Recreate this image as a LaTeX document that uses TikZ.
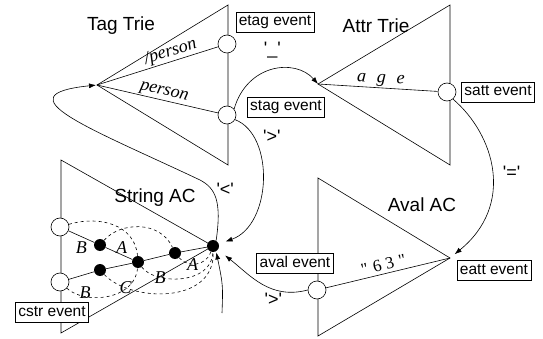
\documentclass[tikz,border=0pt]{standalone}
\usepackage{fontspec}
\newfontfamily\arl{Liberation Sans}
\newfontfamily\tms{Liberation Serif}
\usetikzlibrary{arrows.meta}

\tikzset{
  state/.style={circle,draw,fill=white,minimum size=18pt,inner sep=0pt},
  hit/.style={circle,fill=black,minimum size=12pt,inner sep=0pt},
  evbox/.style={draw,fill=white,font=\arl\fontsize{15.5}{18}\selectfont,
    inner xsep=3pt,inner ysep=2.5pt,text height=11.5pt,text depth=3.5pt},
  title/.style={font=\arl\fontsize{19}{22}\selectfont},
  sym/.style={font=\arl\fontsize{18}{20}\selectfont,inner sep=1pt},
  lbl/.style={font=\tms\itshape\fontsize{18}{20}\selectfont,inner sep=1pt},
  num/.style={font=\tms\fontsize{17}{19}\selectfont,inner sep=1pt},
  move/.style={-{Latex[length=7pt,width=5pt]}},
  fail/.style={dashed}
}

\begin{document}
\begin{tikzpicture}[x=1pt,y=-1pt,line width=0.6pt]
\useasboundingbox (0,0) rectangle (543,339);

% Tag trie
\coordinate (tagroot) at (97,85);
\draw (tagroot) -- (228,5) -- (228,165) -- cycle;
\node[title] (tagname) at (121,26) {Tag Trie};
\node[state] (etagst) at (227,44) {};
\node[state] (stagst) at (227,115) {};
\draw (tagroot) -- (etagst) node[pos=.63,sloped,above,lbl] {/person};
\draw (tagroot) -- (stagst) node[pos=.54,sloped,above,lbl] {person};
\node[evbox] (etagev) at (275,22) {etag event};
\node[evbox] (stagev) at (286,107) {stag event};

% Attr trie
\coordinate (attrroot) at (318,84);
\draw (attrroot) -- (450,5) -- (450,165) -- cycle;
\node[title] (attrname) at (376,26) {Attr Trie};
\node[state] (sattst) at (447,92) {};
\draw (attrroot) -- (sattst) node[pos=.52,sloped,above,lbl] {a\hspace{.6em}g\hspace{.6em}e};
\node[evbox] (sattev) at (498,92) {satt event};

% Aval AC
\coordinate (avalroot) at (450,258);
\draw (avalroot) -- (318,178) -- (318,336) -- cycle;
\node[title] (avalname) at (422,205) {Aval AC};
\node[state] (avalst) at (317,290) {};
\draw (avalst) -- (avalroot) node[pos=.48,sloped,above=2pt,num] {"\hspace{.3em}6\hspace{.25em}3\hspace{.3em}"};
\node[evbox] (avalev) at (295,263) {aval event};
\node[evbox] (eattev) at (494,270) {eatt event};

% String AC
\node[hit] (acroot) at (213,246) {};
\draw (61,160) -- (acroot.center) -- (61,333) -- cycle;
\node[title] (acname) at (155,198) {String AC};
\node[hit] (acA) at (175,253) {};
\node[hit] (acAB) at (138,262) {};
\node[hit] (acABA) at (100,245) {};
\node[hit] (acABC) at (100,270) {};
\node[state] (acABAB) at (60,227) {};
\node[state] (acABCB) at (60,282) {};
\draw (acroot) -- (acA) -- (acAB) -- (acABA)
  node[pos=.4,above,lbl] {A};
\draw (acABA) -- (acABAB) node[pos=.5,below=4pt,lbl] {B};
\draw (acAB) -- (acABC) -- (acABCB);
% failure links
\draw[fail] (acABAB) .. controls (100,215) and (135,225) .. (acAB);
\draw[fail] (acABA) .. controls (120,222) and (160,220) .. (acA);
\draw[fail] (acA) .. controls (188,268) and (206,266) .. (acroot)
  node[pos=.4,lbl] {A};
\draw[fail] (acAB) .. controls (155,285) and (212,285) .. (acroot)
  node[pos=.27,lbl] {B};
\draw[fail] (acABC) .. controls (130,302) and (215,305) .. (acroot)
  node[pos=.2,lbl] {C};
\draw[fail] (acABCB) .. controls (85,305) and (135,300) .. (acAB)
  node[pos=.25,above=-3pt,lbl] {B};
\node[evbox] (cstrev) at (52,312) {cstr event};

% transitions between machines
\draw[move] (stagst.40) .. controls (247,64) and (295,58) .. (attrroot)
  node[pos=.5,above=10pt,sym] {'\_'};
\draw[move,shorten >=7pt] (stagst.-30) .. controls (275,135) and (272,225) .. (acroot)
  node[pos=.2,right=8pt,sym] {'>'};
\draw[move,shorten >=1pt] (acroot.60) .. controls (222,200) and (215,188) .. (200,180)
  node[pos=.7,right=4pt,sym] {'<'}
  .. controls (90,128) and (0,95) .. (tagroot);
\draw[move,shorten >=6pt] (sattst.-50) .. controls (495,135) and (515,205) .. (avalroot)
  node[pos=.5,right=10pt,sym] {'='};
\draw[move,shorten >=9pt] (avalst.west) .. controls (270,300) and (250,275) .. (acroot)
  node[pos=.35,below=3pt,sym] {'>'};
\coordinate (acin) at (222,313);
\draw[move,shorten >=1pt] (acin) .. controls (223,285) .. (acroot.-60);

\end{tikzpicture}
\end{document}
